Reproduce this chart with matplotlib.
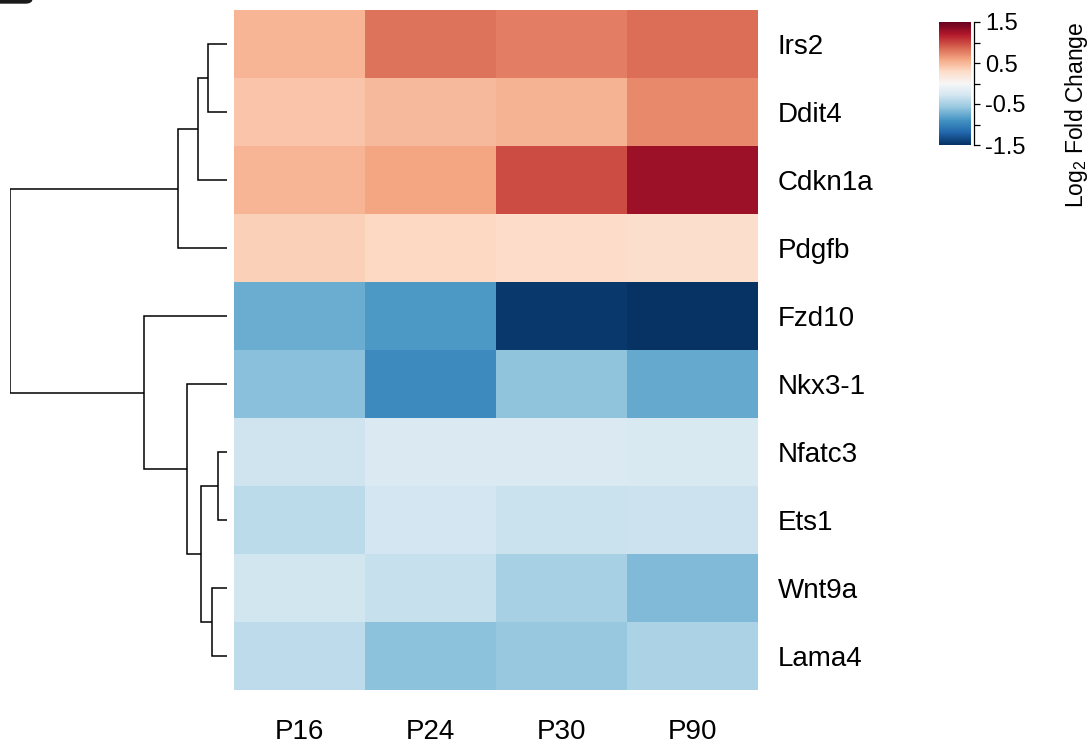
import numpy as np
import matplotlib
matplotlib.use('Agg')
import matplotlib.pyplot as plt
from matplotlib.patches import FancyBboxPatch

plt.rcParams['font.family'] = ['Liberation Sans', 'DejaVu Sans']
plt.rcParams['mathtext.fontset'] = 'custom'
plt.rcParams['mathtext.rm'] = 'Liberation Sans'

genes = ['Irs2', 'Ddit4', 'Cdkn1a', 'Pdgfb', 'Fzd10', 'Nkx3-1', 'Nfatc3', 'Ets1', 'Wnt9a', 'Lama4']
ages = ['P16', 'P24', 'P30', 'P90']

# log2 fold change per gene (rows) and age (columns)
irs2 = [0.51, 0.82, 0.77, 0.84]
ddit4 = [0.43, 0.49, 0.52, 0.72]
cdkn1a = [0.51, 0.59, 0.98, 1.28]
pdgfb = [0.36, 0.31, 0.29, 0.26]
fzd10 = [-0.74, -0.86, -1.45, -1.48]
nkx3_1 = [-0.63, -0.95, -0.60, -0.77]
nfatc3 = [-0.31, -0.23, -0.23, -0.24]
ets1 = [-0.41, -0.28, -0.33, -0.32]
wnt9a = [-0.29, -0.34, -0.50, -0.66]
lama4 = [-0.39, -0.61, -0.57, -0.48]

# row dendrogram: (child a, child b, height); leaves 0-9, merged clusters 10+
linkage = [(0, 1, 19), (6, 7, 9), (8, 9, 15), (11, 12, 26), (10, 2, 29),
           (5, 13, 40), (14, 3, 49), (4, 15, 83), (16, 17, 217)]

data = np.array([irs2, ddit4, cdkn1a, pdgfb, fzd10, nkx3_1, nfatc3, ets1, wnt9a, lama4])

W, H = 1091, 749
fig = plt.figure(figsize=(W / 100, H / 100), dpi=100)


def box(x0, y0, x1, y1):
    return [x0 / W, 1 - y1 / H, (x1 - x0) / W, (y1 - y0) / H]


# heatmap
ax = fig.add_axes(box(234, 10, 758, 690))
im = ax.pcolormesh(data, cmap='RdBu_r', vmin=-1.5, vmax=1.5)
ax.set_ylim(len(genes), 0)
ax.set_xlim(0, len(ages))
ax.set_xticks(np.arange(len(ages)) + 0.5)
ax.set_xticklabels(ages, fontsize=20)
ax.set_yticks(np.arange(len(genes)) + 0.5)
ax.set_yticklabels(genes, fontsize=20)
ax.yaxis.tick_right()
ax.tick_params(axis='y', length=0, pad=14)
ax.tick_params(axis='x', length=0, pad=21)
for s in ax.spines.values():
    s.set_visible(False)

# dendrogram
dax = fig.add_axes(box(10, 10, 227, 690))
pos = {i: i + 0.5 for i in range(len(genes))}
hgt = {i: 0 for i in range(len(genes))}
for k, (a, b, h) in enumerate(linkage):
    node = len(genes) + k
    ya, yb = pos[a], pos[b]
    dax.plot([hgt[a], h, h, hgt[b]], [ya, ya, yb, yb], color='black', lw=1.1,
             solid_capstyle='butt', solid_joinstyle='miter')
    pos[node] = (ya + yb) / 2
    hgt[node] = h
dax.set_xlim(linkage[-1][2], 0)
dax.set_ylim(len(genes), 0)
dax.axis('off')

# colorbar
cax = fig.add_axes(box(939, 22, 971, 145))
cb = fig.colorbar(im, cax=cax, ticks=[-1.5, -0.5, 0.5, 1.5])
cb.outline.set_visible(False)
cb.ax.set_yticks([-1.0, 0.0, 1.0], minor=True)
cb.ax.set_yticklabels(['-1.5', '-0.5', '0.5', '1.5'])
cax.spines['right'].set_visible(True)
cax.spines['right'].set_position(('outward', 2.5))
cax.spines['right'].set_linewidth(0.9)
cax.tick_params(which='both', length=4.5, width=0.9, labelsize=17, pad=3)

fig.text(1076 / W, 1 - 22 / H, r'Log$_\mathregular{2}$ Fold Change', rotation=90,
         ha='center', va='top', fontsize=16.5)

# stray dark tab in the top-left corner
fig.patches.append(FancyBboxPatch((-12 / W, 1 - 3 / H), 44 / W, 14 / H,
                                  boxstyle='round,pad=0,rounding_size=0.006',
                                  transform=fig.transFigure, color='#1a1a1a'))

fig.savefig('out.png', dpi=100)
